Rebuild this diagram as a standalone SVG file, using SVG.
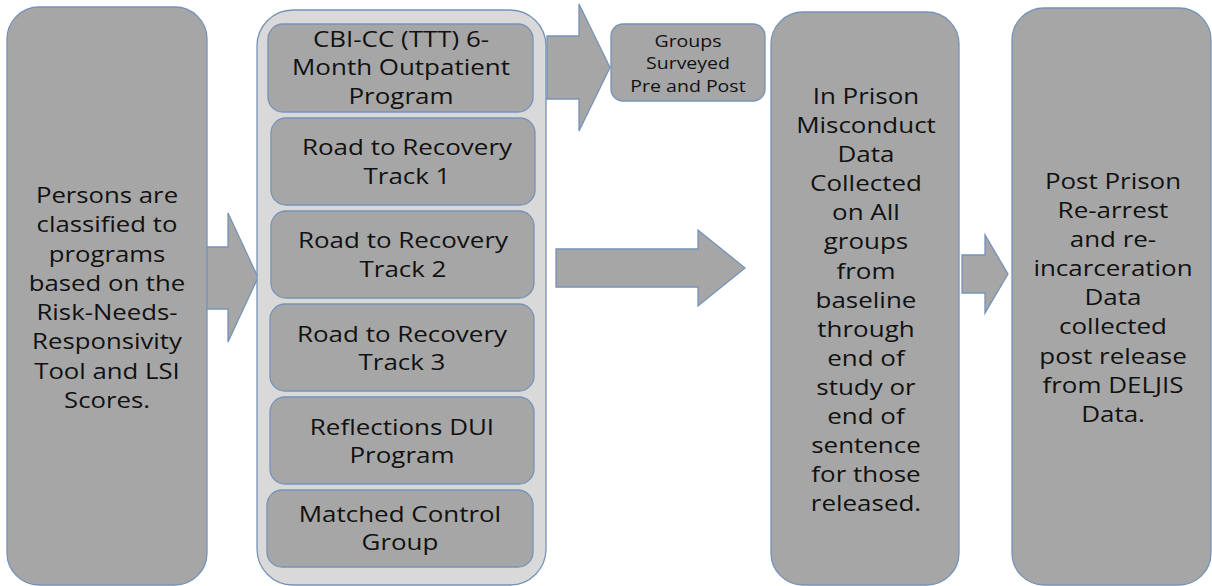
<svg xmlns="http://www.w3.org/2000/svg" width="1212" height="586" viewBox="0 0 1212 586">
<style>
.box{fill:#a6a6a6;stroke:#7593b8;stroke-width:1.3}
.cont{fill:#d9d9d9;stroke:#7593b8;stroke-width:1.3}
.arr{fill:#a6a6a6;stroke:#7593b8;stroke-width:1.3;stroke-linejoin:miter}
text{font-family:"Open Sans","Noto Sans","Liberation Sans",sans-serif;fill:#111;text-anchor:middle}
.t{font-size:22px}
.s{font-size:16px}
</style>
<rect width="1212" height="586" fill="#ffffff"/>
<g id="connectors">
<path class="arr" d="M196,247 H228 V213 L258,277.5 L228,342 V309 H196 Z"/>
<path class="arr" d="M547,36 H579 V4 L610,67.5 L579,131 V99 H547 Z"/>
<path class="arr" d="M556,249 H698 V230 L745,268 L698,306 V287 H556 Z"/>
<path class="arr" d="M962,255 H985 V235 L1008,274 L985,313 V293 H962 Z"/>
</g>
<g id="n-persons">
<rect class="box" x="7" y="7" width="200" height="578" rx="32"/>
<text class="t" transform="matrix(1.17,0,0,1,-18.19,0)"><tspan x="107" y="203">Persons are</tspan><tspan x="107" y="232.3">classified to</tspan><tspan x="107" y="261.6">programs</tspan><tspan x="107" y="290.9">based on the</tspan><tspan x="107" y="320.2">Risk-Needs-</tspan><tspan x="107" y="349.5">Responsivity</tspan><tspan x="107" y="378.8">Tool and LSI</tspan><tspan x="107" y="408.1">Scores.</tspan></text>
</g>
<g id="n-programs">
<rect class="cont" x="257" y="10" width="289" height="575" rx="36"/>
</g>
<g id="n-cbi">
<rect class="box" x="268" y="24" width="265" height="88" rx="15"/>
<text class="t" transform="matrix(1.18,0,0,1,-72.18,0)"><tspan x="401" y="47">CBI-CC (TTT) 6-</tspan><tspan x="401" y="75.5">Month Outpatient</tspan><tspan x="401" y="104">Program</tspan></text>
</g>
<g id="n-track1">
<rect class="box" x="271" y="118" width="264" height="87" rx="15"/>
<text class="t" transform="matrix(1.18,0,0,1,-73.26,0)"><tspan x="407" y="155">Road to Recovery</tspan><tspan x="407" y="184">Track 1</tspan></text>
</g>
<g id="n-track2">
<rect class="box" x="271" y="211" width="263" height="87" rx="15"/>
<text class="t" transform="matrix(1.18,0,0,1,-72.54,0)"><tspan x="403" y="248">Road to Recovery</tspan><tspan x="403" y="277">Track 2</tspan></text>
</g>
<g id="n-track3">
<rect class="box" x="270" y="304" width="264" height="87" rx="15"/>
<text class="t" transform="matrix(1.18,0,0,1,-72.36,0)"><tspan x="402" y="342">Road to Recovery</tspan><tspan x="402" y="370">Track 3</tspan></text>
</g>
<g id="n-reflections">
<rect class="box" x="270" y="397" width="264" height="87" rx="15"/>
<text class="t" transform="matrix(1.18,0,0,1,-72.36,0)"><tspan x="402" y="435">Reflections DUI</tspan><tspan x="402" y="463">Program</tspan></text>
</g>
<g id="n-control">
<rect class="box" x="267" y="490" width="266" height="77" rx="15"/>
<text class="t" transform="matrix(1.18,0,0,1,-72,0)"><tspan x="400" y="522">Matched Control</tspan><tspan x="400" y="550">Group</tspan></text>
</g>
<g id="n-groups">
<rect class="box" x="611" y="24" width="154" height="77" rx="12"/>
<text class="s" transform="matrix(1.22,0,0,1,-151.36,0)"><tspan x="688" y="47">Groups</tspan><tspan x="688" y="69">Surveyed</tspan><tspan x="688" y="92">Pre and Post</tspan></text>
</g>
<g id="n-inprison">
<rect class="box" x="771" y="12" width="188" height="573" rx="32"/>
<text class="t" transform="matrix(1.18,0,0,1,-155.88,0)"><tspan x="866" y="104">In Prison</tspan><tspan x="866" y="133.1">Misconduct</tspan><tspan x="866" y="162.2">Data</tspan><tspan x="866" y="191.3">Collected</tspan><tspan x="866" y="220.4">on All</tspan><tspan x="866" y="249.5">groups</tspan><tspan x="866" y="278.6">from</tspan><tspan x="866" y="307.7">baseline</tspan><tspan x="866" y="336.8">through</tspan><tspan x="866" y="365.9">end of</tspan><tspan x="866" y="395">study or</tspan><tspan x="866" y="424.1">end of</tspan><tspan x="866" y="453.2">sentence</tspan><tspan x="866" y="482.3">for those</tspan><tspan x="866" y="511.4">released.</tspan></text>
</g>
<g id="n-postprison">
<rect class="box" x="1012" y="8" width="199" height="577" rx="32"/>
<text class="t" transform="matrix(1.18,0,0,1,-200.34,0)"><tspan x="1113" y="189">Post Prison</tspan><tspan x="1113" y="218.1">Re-arrest</tspan><tspan x="1113" y="247.2">and re-</tspan><tspan x="1113" y="276.3">incarceration</tspan><tspan x="1113" y="305.4">Data</tspan><tspan x="1113" y="334.5">collected</tspan><tspan x="1113" y="363.6">post release</tspan><tspan x="1113" y="392.7">from DELJIS</tspan><tspan x="1113" y="421.8">Data.</tspan></text>
</g>
</svg>
